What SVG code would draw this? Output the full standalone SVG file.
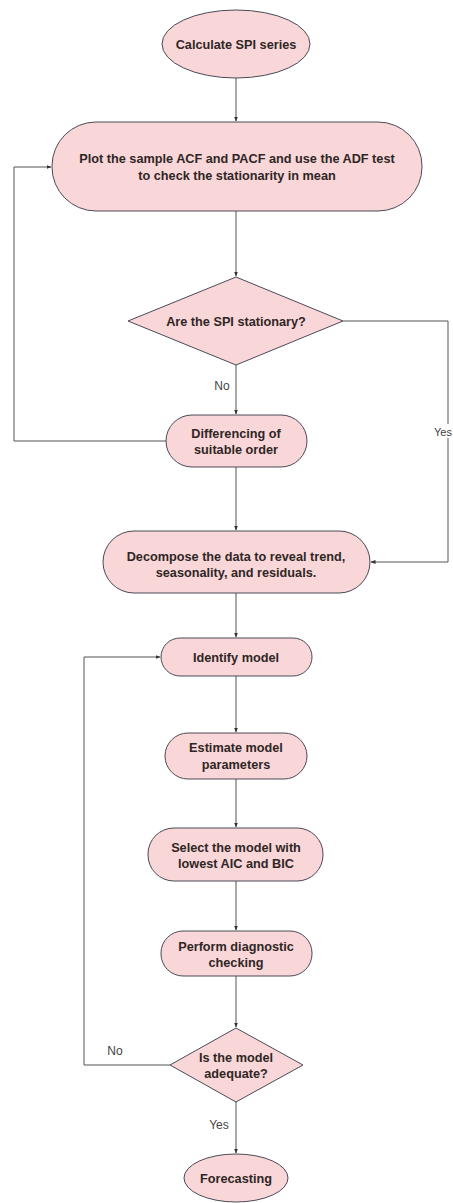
<svg xmlns="http://www.w3.org/2000/svg" width="453" height="1203" viewBox="0 0 453 1203">
<style>
.shape{fill:#f9d6d7;stroke:#4a4a58;stroke-width:1}
.t{font-family:"Liberation Sans",Arial,sans-serif;font-weight:bold;font-size:12.7px;fill:#2e2626;text-anchor:middle}
.lbl{font-family:"Liberation Sans",Arial,sans-serif;font-size:12px;fill:#444;text-anchor:middle}
.c{fill:none;stroke:#555;stroke-width:1}
</style>
<defs>
<marker id="arr" viewBox="0 0 10 10" refX="9" refY="5" markerWidth="5" markerHeight="5" orient="auto">
<path d="M0,1 L10,5 L0,9 z" fill="#333"/>
</marker>
</defs>
<rect width="453" height="1203" fill="#ffffff"/>
<g id="connectors">
<path class="c" d="M236,78 V121" marker-end="url(#arr)"/>
<path class="c" d="M236,211 V276" marker-end="url(#arr)"/>
<path class="c" d="M236,365 V414" marker-end="url(#arr)"/>
<path class="c" d="M166,441 H14 V167 H51" marker-end="url(#arr)"/>
<path class="c" d="M343,321 H448 V562 H371" marker-end="url(#arr)"/>
<path class="c" d="M236,467 V530" marker-end="url(#arr)"/>
<path class="c" d="M236,593 V637" marker-end="url(#arr)"/>
<path class="c" d="M236,676 V732" marker-end="url(#arr)"/>
<path class="c" d="M236,779 V827" marker-end="url(#arr)"/>
<path class="c" d="M236,881 V930" marker-end="url(#arr)"/>
<path class="c" d="M236,976 V1027" marker-end="url(#arr)"/>
<path class="c" d="M170,1065 H84 V657 H160" marker-end="url(#arr)"/>
<path class="c" d="M236,1102 V1153" marker-end="url(#arr)"/>
<text class="lbl" x="222" y="390">No</text>
<rect x="433" y="424" width="20" height="14" fill="#ffffff"/>
<text class="lbl" x="452" y="436" style="text-anchor:end;font-size:11px">Yes</text>
<text class="lbl" x="115" y="1055">No</text>
<text class="lbl" x="219" y="1129">Yes</text>
</g>
<g id="n1">
<ellipse class="shape" cx="236" cy="44" rx="74" ry="34"/>
<text class="t" x="236" y="49">Calculate  SPI series</text>
</g>
<g id="n2">
<rect class="shape" x="52" y="122" width="370" height="89" rx="44" ry="44"/>
<text class="t" x="237" y="163">Plot the sample ACF and PACF and use the ADF test</text>
<text class="t" x="237" y="180">to check the stationarity in mean</text>
</g>
<g id="n3">
<polygon class="shape" points="236,277 343,321 236,365 128,321"/>
<text class="t" x="236" y="326">Are the SPI stationary?</text>
</g>
<g id="n4">
<rect class="shape" x="166" y="415" width="141" height="52" rx="26" ry="26"/>
<text class="t" x="236" y="438">Differencing of</text>
<text class="t" x="236" y="454">suitable order</text>
</g>
<g id="n5">
<rect class="shape" x="103" y="531" width="267" height="62" rx="31" ry="31"/>
<text class="t" x="236" y="561">Decompose the data to reveal trend,</text>
<text class="t" x="236" y="577">seasonality, and residuals.</text>
</g>
<g id="n6">
<rect class="shape" x="161" y="638" width="151" height="38" rx="19" ry="19"/>
<text class="t" x="236" y="662">Identify model</text>
</g>
<g id="n7">
<rect class="shape" x="165" y="733" width="142" height="46" rx="23" ry="23"/>
<text class="t" x="236" y="752">Estimate model</text>
<text class="t" x="236" y="769">parameters</text>
</g>
<g id="n8">
<rect class="shape" x="148" y="828" width="175" height="53" rx="26" ry="26"/>
<text class="t" x="236" y="852">Select the model with</text>
<text class="t" x="236" y="868">lowest AIC and BIC</text>
</g>
<g id="n9">
<rect class="shape" x="161" y="931" width="151" height="45" rx="22" ry="22"/>
<text class="t" x="236" y="951">Perform diagnostic</text>
<text class="t" x="236" y="967">checking</text>
</g>
<g id="n10">
<polygon class="shape" points="236,1028 303,1065 236,1102 170,1065"/>
<text class="t" x="236" y="1062">Is the model</text>
<text class="t" x="236" y="1078">adequate?</text>
</g>
<g id="n11">
<ellipse class="shape" cx="236" cy="1178" rx="52" ry="24"/>
<text class="t" x="236" y="1183">Forecasting</text>
</g>
</svg>
